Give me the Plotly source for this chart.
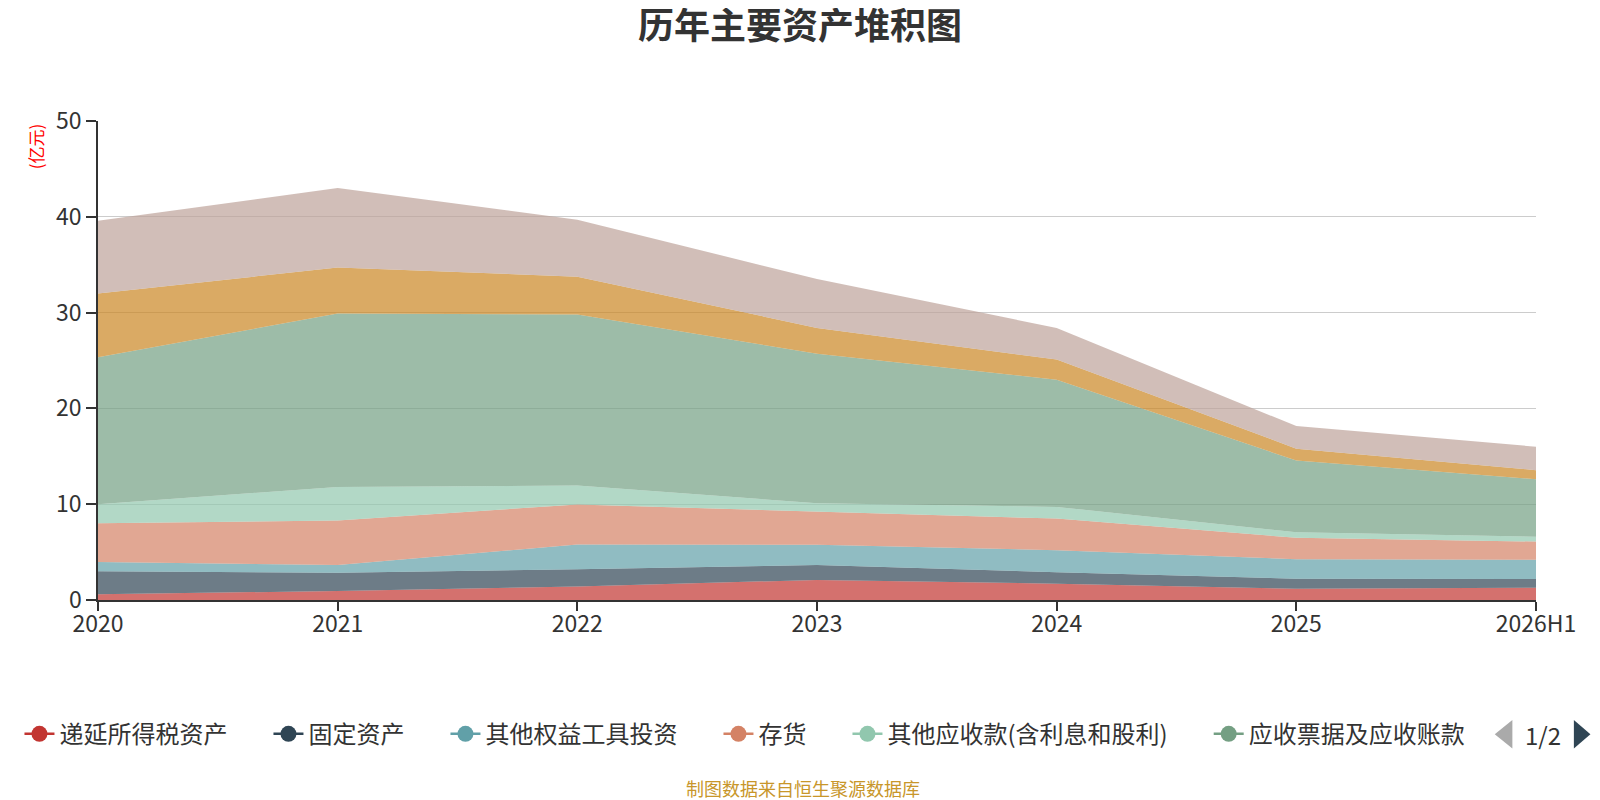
import plotly.graph_objects as go

years = ["2020", "2021", "2022", "2023", "2024", "2025", "2026H1"]

# values in 亿元 (bottom to top of stack)
deferred_tax = [0.6, 0.94, 1.4, 2.1, 1.7, 1.18, 1.29]
fixed_assets = [2.4, 1.91, 1.8, 1.56, 1.2, 1.05, 0.91]
other_equity = [0.96, 0.8, 2.6, 2.11, 2.3, 2.02, 2.0]
inventory = [4.04, 4.65, 4.17, 3.47, 3.3, 2.25, 1.9]
other_recv = [2.0, 3.5, 1.97, 0.86, 1.22, 0.57, 0.5]
notes_recv = [15.35, 18.1, 17.86, 15.6, 13.28, 7.49, 6.0]
trading_fin = [6.65, 4.8, 3.95, 2.7, 2.1, 1.24, 0.95]
cash = [7.6, 8.3, 5.95, 5.1, 3.3, 2.35, 2.45]

series_names = ["递延所得税资产", "固定资产", "其他权益工具投资", "存货",
                "其他应收款(含利息和股利)", "应收票据及应收账款",
                "交易性金融资产", "货币资金"]
series_values = [deferred_tax, fixed_assets, other_equity, inventory,
                 other_recv, notes_recv, trading_fin, cash]
colors = ["#c23531", "#2f4554", "#61a0a8", "#d48265",
          "#91c7ae", "#749f83", "#ca8622", "#bda29a"]
legend_count = 6  # first legend page
page_label = "1/2"


def rgba(h, a):
    h = h.lstrip("#")
    r, g, b = int(h[0:2], 16), int(h[2:4], 16), int(h[4:6], 16)
    return f"rgba({r},{g},{b},{a})"


W, H = 1600, 800
L, T = 84.8, 112.5
PLOT_R, PLOT_B = 1527.7, 592.5
R, B = W - PLOT_R, H - PLOT_B
PW, PH = PLOT_R - L, PLOT_B - T


def px(x):
    return (x - L) / PW


def py(y):
    return (PLOT_B - y) / PH


fig = go.Figure()
for name, vals, c in zip(series_names, series_values, colors):
    fig.add_trace(go.Scatter(
        x=years, y=vals, name=name, stackgroup="one", mode="lines",
        line=dict(width=0, color=c), fillcolor=rgba(c, 0.7),
        showlegend=False,
    ))

pad = "\u3000\u2002"
for i in range(legend_count):
    label = series_names[i] + (pad if i < legend_count - 1 else "")
    fig.add_trace(go.Scatter(
        x=[None], y=[None], name=label,
        mode="lines+markers",
        line=dict(color=colors[i], width=2.5),
        marker=dict(color=colors[i], size=22),
        showlegend=True,
    ))

font_family = "Noto Sans CJK SC, Microsoft YaHei, sans-serif"

fig.update_layout(
    width=W, height=H,
    margin=dict(l=L, r=R, t=T, b=B),
    paper_bgcolor="white", plot_bgcolor="white",
    font=dict(family=font_family, color="#333333", size=23),
    title=dict(text="<b>历年主要资产堆积图</b>", x=792 / W, xanchor="center",
               y=1 - 18 / H, yanchor="middle",
               font=dict(size=36, color="#333333", family=font_family)),
    xaxis=dict(
        type="category", range=[0, len(years) - 1],
        showline=True, linecolor="#333333", linewidth=1.5,
        ticks="outside", ticklen=9, tickcolor="#333333", tickwidth=1.5,
        showgrid=False, tickfont=dict(size=23, color="#333333"),
        ticklabelstandoff=-6,
        automargin=False, fixedrange=True,
    ),
    yaxis=dict(
        range=[0, 50], dtick=10,
        showline=True, linecolor="#333333", linewidth=1.5,
        ticks="outside", ticklen=10, tickcolor="#333333", tickwidth=1.5,
        showgrid=True, gridcolor="#cccccc", gridwidth=1.2,
        zeroline=False, tickfont=dict(size=23, color="#333333"),
        automargin=False,
    ),
    legend=dict(
        orientation="h", x=px(6), xanchor="left",
        y=py(727), yanchor="middle", traceorder="normal",
        font=dict(size=24, color="#333333"),
        bgcolor="rgba(0,0,0,0)",
    ),
    hovermode="x unified",
    showlegend=True,
)

fig.add_annotation(
    text="(亿元)", textangle=-90, xref="paper", yref="paper",
    x=px(23), y=py(137.5), xanchor="center", yanchor="middle",
    showarrow=False, font=dict(size=17, color="#ff0000"),
)

fig.add_annotation(
    text="制图数据来自恒生聚源数据库", xref="paper", yref="paper",
    x=px(792), y=py(781), xanchor="center", yanchor="middle",
    showarrow=False, font=dict(size=18, color="#c8962a"),
)

sh = 8  # pager shift to stay inside the visible page
fig.add_annotation(
    text=page_label, xref="paper", yref="paper",
    x=px(1543 - sh), y=py(727), xanchor="center", yanchor="middle",
    showarrow=False, font=dict(size=24, color="#333333"),
)

fig.add_shape(type="path", xref="paper", yref="paper",
              path=f"M {px(1512 - sh)} {py(712.7)} L {px(1512 - sh)} {py(741.3)} L {px(1494.3 - sh)} {py(727)} Z",
              fillcolor="#aaaaaa", line=dict(width=0))
fig.add_shape(type="path", xref="paper", yref="paper",
              path=f"M {px(1573.7 - sh)} {py(712.7)} L {px(1573.7 - sh)} {py(741.3)} L {px(1590.3 - sh)} {py(727)} Z",
              fillcolor="#2f4554", line=dict(width=0))

fig.write_html("out.html")
